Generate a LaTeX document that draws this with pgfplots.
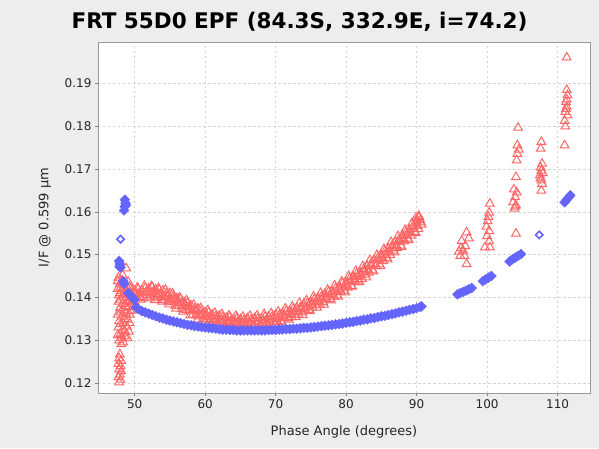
\documentclass[border=0pt]{standalone}
\usepackage{pgfplots}
\pgfplotsset{compat=1.18}
\usetikzlibrary{backgrounds}
\usepackage{fontspec}
\setmainfont{DejaVu Sans}
\definecolor{bgray}{HTML}{EDEDED}
\definecolor{pblue}{HTML}{6464FF}
\definecolor{pred}{HTML}{FF6666}
\definecolor{gridc}{HTML}{D4D4D4}
\pgfplotsset{
  tri/.style={only marks, mark=triangle, mark size=5pt, pred, mark options={line width=1pt}},
}
\begin{document}
\begin{tikzpicture}
\begin{axis}[
  name=ax,
  scale only axis, width=492pt, height=351pt,
  xmin=44.8, xmax=114.6, ymin=0.1177, ymax=0.1996,
  xtick={50,60,70,80,90,100,110},
  ytick={0.12,0.13,0.14,0.15,0.16,0.17,0.18,0.19},
  scaled y ticks=false,
  yticklabel style={/pgf/number format/fixed, /pgf/number format/precision=2, /pgf/number format/fixed zerofill},
  /pgf/number format/assume math mode=true,
  tick label style={font=\fontsize{12}{14}\selectfont, text=black!85},
  xtick pos=bottom, ytick pos=left,
  tick align=outside, major tick length=3pt,
  tick style={gray, thin},
  axis background/.style={fill=white},
  axis line style={gray!80},
  grid=major,
  major grid style={gridc, dash pattern=on 2.5pt off 2.5pt},
  xlabel={Phase Angle (degrees)},
  ylabel={I/F @ 0.599 µm},
  label style={font=\fontsize{13}{15}\selectfont, text=black!85},
  xlabel style={at={(axis description cs:0.5,-0.1103)}, anchor=center},
  ylabel style={at={(axis description cs:-0.1077,0.5)}, anchor=center},
  clip=true,
]
% red triangles: left column
\addplot[tri] coordinates {
(47.7,0.1446)(48.2,0.1440)(48.8,0.1468)(47.9,0.1432)(48.5,0.1428)(49.1,0.1436)
(47.6,0.1420)(48.1,0.1415)(48.7,0.1418)(49.3,0.1425)(47.8,0.1405)(48.4,0.1400)
(49.0,0.1408)(47.7,0.1390)(48.3,0.1385)(48.9,0.1392)(49.4,0.1398)(47.9,0.1375)
(48.5,0.1370)(49.1,0.1378)(47.6,0.1360)(48.2,0.1355)(48.8,0.1362)(47.8,0.1345)
(48.4,0.1340)(49.0,0.1348)(47.7,0.1330)(48.3,0.1325)(48.9,0.1332)(48.0,0.1315)
(48.6,0.1310)(47.8,0.1300)(48.4,0.1295)(48.1,0.1291)(49.5,0.1410)(49.7,0.1420)
(49.2,0.1390)(49.6,0.1400)(49.8,0.1412)(49.4,0.1368)(49.3,0.1340)(49.2,0.1320)
(49.0,0.1305)(47.6,0.1438)(48.3,0.1452)(48.0,0.1423)(48.9,0.1425)(47.9,0.1410)
(48.6,0.1406)(48.0,0.1395)(48.7,0.1380)(48.0,0.1365)(49.3,0.1360)(48.6,0.1350)
(48.0,0.1338)(48.6,0.1322)(48.2,0.1305)(47.6,0.1312)(49.6,0.1385)(49.7,0.1370)
(50.0,0.1390)
(47.9,0.1267)(47.8,0.1258)(48.1,0.1252)(47.7,0.1245)(48.0,0.1240)(47.8,0.1232)
(48.1,0.1228)(47.9,0.1220)(47.7,0.1214)(48.0,0.1208)(47.8,0.1202)
};
% red triangles: main band
\addplot[tri] coordinates {
(50.00,0.1415)(50.25,0.1398)(50.50,0.1420)(50.75,0.1401)(51.00,0.1416)(51.25,0.1399)
(51.50,0.1422)(51.75,0.1406)(52.00,0.1421)(52.25,0.1402)(52.50,0.1424)(52.75,0.1404)
(53.00,0.1418)(53.25,0.1398)(53.50,0.1418)(53.75,0.1401)(54.00,0.1416)(54.25,0.1394)
(54.50,0.1409)(54.75,0.1391)(55.00,0.1410)(55.25,0.1389)(55.50,0.1403)(55.75,0.1381)
(56.00,0.1398)(56.25,0.1380)(56.50,0.1397)(56.75,0.1374)(57.00,0.1389)(57.25,0.1371)
(57.50,0.1387)(57.75,0.1369)(58.00,0.1381)(58.25,0.1360)(58.50,0.1374)(58.75,0.1358)
(59.00,0.1374)(59.25,0.1356)(59.50,0.1370)(59.75,0.1350)(60.00,0.1365)(60.25,0.1349)
(60.50,0.1365)(60.75,0.1347)(61.00,0.1360)(61.25,0.1342)(61.50,0.1356)(61.75,0.1341)
(62.00,0.1357)(62.25,0.1341)(62.50,0.1354)(62.75,0.1337)(63.00,0.1352)(63.25,0.1339)
(63.50,0.1354)(63.75,0.1336)(64.00,0.1349)(64.25,0.1336)(64.50,0.1351)(64.75,0.1336)
(65.00,0.1349)(65.25,0.1334)(65.50,0.1347)(65.75,0.1335)(66.00,0.1351)(66.25,0.1336)
(66.50,0.1348)(66.75,0.1335)(67.00,0.1351)(67.25,0.1338)(67.50,0.1351)(67.75,0.1337)
(68.00,0.1351)(68.25,0.1339)(68.50,0.1355)(68.75,0.1341)(69.00,0.1355)(69.25,0.1339)
(69.50,0.1355)(69.75,0.1343)(70.00,0.1360)(70.25,0.1343)(70.50,0.1359)(70.75,0.1345)
(71.00,0.1363)(71.25,0.1351)(71.50,0.1368)(71.75,0.1352)(72.00,0.1368)(72.25,0.1354)
(72.50,0.1373)(72.75,0.1359)(73.00,0.1376)(73.25,0.1360)(73.50,0.1377)(73.75,0.1365)
(74.00,0.1385)(74.25,0.1369)(74.50,0.1386)(74.75,0.1371)(75.00,0.1389)(75.25,0.1376)
(75.50,0.1396)(75.75,0.1382)(76.00,0.1399)(76.25,0.1383)(76.50,0.1402)(76.75,0.1389)
(77.00,0.1408)(77.25,0.1395)(77.50,0.1413)(77.75,0.1396)(78.00,0.1414)(78.25,0.1402)
(78.50,0.1421)(78.75,0.1405)(79.00,0.1425)(79.25,0.1413)(79.50,0.1433)(79.75,0.1416)
(80.00,0.1435)(80.25,0.1423)(80.50,0.1444)(80.75,0.1427)(81.00,0.1448)(81.25,0.1436)
(81.50,0.1455)(81.75,0.1439)(82.00,0.1458)(82.25,0.1443)(82.50,0.1466)(82.75,0.1453)
(83.00,0.1473)(83.25,0.1458)(83.50,0.1478)(83.75,0.1463)(84.00,0.1487)(84.25,0.1473)
(84.50,0.1492)(84.75,0.1477)(85.00,0.1498)(85.25,0.1485)(85.50,0.1508)(85.75,0.1493)
(86.00,0.1514)(86.25,0.1499)(86.50,0.1520)(86.75,0.1509)(87.00,0.1530)(87.25,0.1515)
(87.50,0.1535)(87.75,0.1521)(88.00,0.1544)(88.25,0.1531)(88.50,0.1553)(88.75,0.1537)
(89.00,0.1558)(89.25,0.1544)(89.50,0.1567)(89.75,0.1553)(90.00,0.1577)(90.25,0.1560)
(90.50,0.1581)(90.70,0.1570)(90.30,0.1590)(89.90,0.1585)
(50.125,0.1407)(50.625,0.1410)(51.125,0.1411)(51.625,0.1413)(52.125,0.1411)(52.625,0.1413)
(53.125,0.1408)(53.625,0.1408)(54.125,0.1403)(54.625,0.1401)(55.125,0.1396)(55.625,0.1394)
(56.125,0.1388)(56.625,0.1386)(57.125,0.1380)(57.625,0.1377)(58.125,0.1370)(58.625,0.1368)
(59.125,0.1362)(59.625,0.1361)(60.125,0.1356)(60.625,0.1355)(61.125,0.1350)(61.625,0.1350)
(62.125,0.1346)(62.625,0.1347)(63.125,0.1343)(63.625,0.1345)(64.125,0.1342)(64.625,0.1343)
(65.125,0.1341)(65.625,0.1343)(66.125,0.1341)(66.625,0.1343)(67.125,0.1343)(67.625,0.1345)
(68.125,0.1344)(68.625,0.1347)(69.125,0.1346)(69.625,0.1350)(70.125,0.1350)(70.625,0.1354)
(71.125,0.1356)(71.625,0.1360)(72.125,0.1361)(72.625,0.1366)(73.125,0.1368)(73.625,0.1373)
(74.125,0.1375)(74.625,0.1380)(75.125,0.1383)(75.625,0.1389)(76.125,0.1392)(76.625,0.1397)
(77.125,0.1400)(77.625,0.1405)(78.125,0.1409)(78.625,0.1414)(79.125,0.1419)(79.625,0.1425)
(80.125,0.1430)(80.625,0.1437)(81.125,0.1441)(81.625,0.1448)(82.125,0.1452)(82.625,0.1460)
(83.125,0.1465)(83.625,0.1473)(84.125,0.1478)(84.625,0.1487)(85.125,0.1492)(85.625,0.1500)
(86.125,0.1506)(86.625,0.1515)(87.125,0.1522)(87.625,0.1530)(88.125,0.1537)(88.625,0.1545)
(89.125,0.1551)(89.625,0.1560)(90.125,0.1567)(90.625,0.1575)
(50.375,0.1423)(50.875,0.1395)(51.375,0.1427)(51.875,0.1398)(52.375,0.1426)(52.875,0.1394)
(53.375,0.1422)(53.875,0.1390)(54.375,0.1418)(54.875,0.1384)(55.375,0.1409)(55.875,0.1374)
(56.375,0.1400)(56.875,0.1367)(57.375,0.1393)(57.875,0.1358)(58.375,0.1383)(58.875,0.1348)
(59.375,0.1375)(59.875,0.1343)(60.375,0.1370)(60.875,0.1338)(61.375,0.1364)(61.875,0.1335)
(62.375,0.1361)(62.875,0.1332)(63.375,0.1358)(63.875,0.1331)(64.375,0.1357)(64.875,0.1330)
(65.375,0.1355)(65.875,0.1329)(66.375,0.1357)(66.875,0.1331)(67.375,0.1358)(67.875,0.1332)
(68.375,0.1361)(68.875,0.1335)(69.375,0.1363)(69.875,0.1337)(70.375,0.1367)(70.875,0.1341)
(71.375,0.1374)(71.875,0.1348)(72.375,0.1379)(72.875,0.1354)(73.375,0.1387)(73.875,0.1359)
(74.375,0.1393)(74.875,0.1368)(75.375,0.1402)(75.875,0.1376)(76.375,0.1410)(76.875,0.1383)
(77.375,0.1418)(77.875,0.1393)(78.375,0.1428)(78.875,0.1402)(79.375,0.1437)(79.875,0.1412)
(80.375,0.1450)(80.875,0.1425)(81.375,0.1462)(81.875,0.1436)(82.375,0.1473)(82.875,0.1447)
(83.375,0.1487)(83.875,0.1461)(84.375,0.1499)(84.875,0.1473)(85.375,0.1513)(85.875,0.1489)
(86.375,0.1529)(86.875,0.1505)(87.375,0.1543)(87.875,0.1518)(88.375,0.1558)(88.875,0.1534)
(89.375,0.1574)(89.875,0.1550)(90.375,0.1588)
};
% red triangles: clusters at high phase
\addplot[tri] coordinates {
(97.1,0.1552)(96.4,0.1532)(97.4,0.1538)(96.6,0.1509)(96.2,0.1497)(96.8,0.1497)
(97.1,0.1478)(96.0,0.1507)(96.9,0.1520)(96.3,0.1515)
(100.4,0.1619)(100.3,0.1598)(100.1,0.1578)(100.3,0.1555)(100.0,0.1543)(100.3,0.1531)
(99.7,0.1517)(100.4,0.1517)(99.9,0.1565)(100.2,0.1588)
(104.4,0.1796)(104.3,0.1755)(104.5,0.1745)(104.3,0.1735)(104.2,0.1720)(104.1,0.1681)
(103.8,0.1652)(104.2,0.1645)(104.0,0.1634)(103.7,0.1622)(104.1,0.1615)(103.9,0.1607)
(104.0,0.1612)(104.1,0.1549)
(107.7,0.1763)(107.6,0.1747)(107.8,0.1712)(107.7,0.1696)(107.5,0.1685)(107.7,0.1673)
(107.8,0.1665)(107.7,0.1649)(107.6,0.1703)(107.9,0.1690)(107.6,0.1678)
(111.3,0.1960)(111.3,0.1884)(111.4,0.1872)(111.2,0.1856)(111.3,0.1845)(111.1,0.1833)
(111.4,0.1825)(111.1,0.1799)(111.0,0.1755)(111.2,0.1840)(111.3,0.1862)(111.0,0.1812)
};
% blue diamonds
\addplot[only marks, mark=square*, mark size=3.5pt, pblue, mark options={rotate=45}] coordinates {
(48.5,0.1603)(48.6,0.1612)(48.7,0.1620)(48.6,0.1628)(48.75,0.1615)
(47.8,0.1485)(47.9,0.1478)(48.0,0.1470)(47.85,0.1472)
(48.4,0.1438)(48.5,0.1432)
(49.1,0.1410)(49.4,0.1405)(49.7,0.1399)(49.95,0.1395)
(50.2,0.1377)(50.5,0.1373)(51.0,0.1368)(51.5,0.1365)(52.0,0.1362)(52.5,0.1359)
(53.0,0.1356)(53.5,0.1353)(54.0,0.1351)(54.5,0.1348)(55.0,0.1346)(55.5,0.1344)
(56.0,0.1342)(56.5,0.1340)(57.0,0.1338)(57.5,0.1336)(58.0,0.1335)(58.5,0.1333)
(59.0,0.1332)(59.5,0.1331)(60.0,0.1330)(60.5,0.1329)(61.0,0.1328)(61.5,0.1327)
(62.0,0.1326)(62.5,0.1325)(63.0,0.1325)(63.5,0.1324)(64.0,0.1324)(64.5,0.1323)
(65.0,0.1323)(65.5,0.1323)(66.0,0.1323)(66.5,0.1323)(67.0,0.1323)(67.5,0.1323)
(68.0,0.1323)(68.5,0.1323)(69.0,0.1324)(69.5,0.1324)(70.0,0.1324)(70.5,0.1325)
(71.0,0.1325)(71.5,0.1326)(72.0,0.1326)(72.5,0.1327)(73.0,0.1327)(73.5,0.1328)
(74.0,0.1329)(74.5,0.1329)(75.0,0.1330)(75.5,0.1331)(76.0,0.1332)(76.5,0.1333)
(77.0,0.1334)(77.5,0.1335)(78.0,0.1336)(78.5,0.1337)(79.0,0.1338)(79.5,0.1339)
(80.0,0.1341)(80.5,0.1342)(81.0,0.1343)(81.5,0.1345)(82.0,0.1346)(82.5,0.1348)
(83.0,0.1349)(83.5,0.1351)(84.0,0.1352)(84.5,0.1354)(85.0,0.1356)(85.5,0.1357)
(86.0,0.1359)(86.5,0.1361)(87.0,0.1363)(87.5,0.1365)(88.0,0.1367)(88.5,0.1369)
(89.0,0.1371)(89.5,0.1373)(90.0,0.1375)(90.5,0.1378)(90.7,0.1379)
(95.8,0.1407)(96.2,0.1410)(96.6,0.1413)(97.0,0.1416)(97.4,0.1419)(97.8,0.1422)
(99.4,0.1438)(99.8,0.1442)(100.2,0.1446)(100.6,0.1450)
(103.2,0.1484)(103.6,0.1489)(104.0,0.1493)(104.4,0.1497)(104.8,0.1501)
(111.0,0.1622)(111.3,0.1628)(111.6,0.1634)(111.8,0.1638)
};
% blue open diamonds
\addplot[only marks, mark=square*, mark size=2.6pt, pblue, mark options={rotate=45, fill=white, line width=1.6pt}] coordinates {
(48.0,0.1536)(107.4,0.1546)
};
\end{axis}
\node[font=\fontsize{21.5}{24}\selectfont\bfseries] at ([shift={(201.5pt,371pt)}]ax.south west) {FRT 55D0 EPF (84.3S, 332.9E, i=74.2)};
\begin{scope}[on background layer]
\fill[bgray] ([shift={(-98pt,-55pt)}]ax.south west) rectangle ([shift={(9pt,42pt)}]ax.north east);
\end{scope}
\pgfresetboundingbox
\useasboundingbox ([shift={(-98pt,-55pt)}]ax.south west) rectangle ([shift={(9pt,42pt)}]ax.north east);
\end{tikzpicture}
\end{document}
